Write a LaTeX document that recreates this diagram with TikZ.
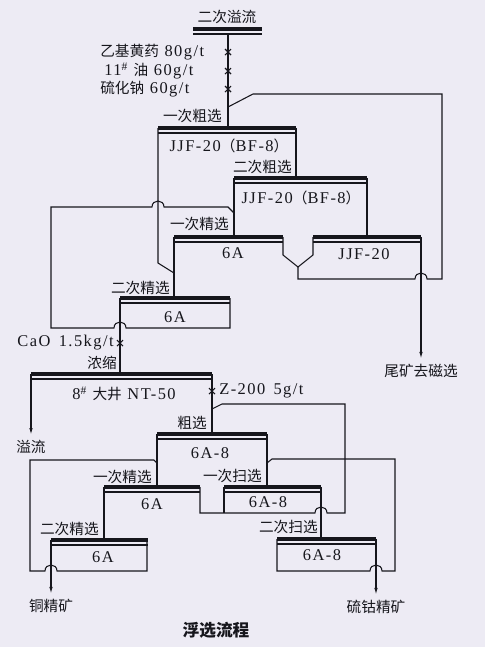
\documentclass[tikz,border=0pt]{standalone}
\usepackage{fontspec}
\setmainfont{Liberation Serif}[Scale=1.12, LetterSpace=9]
\newfontfamily\zhfont{Noto Sans CJK SC}
\newcommand{\zh}[1]{{\zhfont #1}}
\usepackage{tikz}
\usetikzlibrary{arrows.meta}
\definecolor{paper}{RGB}{237,235,244}
\definecolor{ink}{RGB}{22,22,28}

\tikzset{
  pipe/.style={draw=ink, line width=0.8pt},
  topbar/.style={draw=ink, line width=2.3pt},
  exitline/.style={pipe, -{Latex[length=5pt,width=2.6pt]}, shorten >=4pt},
  lbl/.style={inner sep=0pt, text=ink, font=\fontsize{11}{12}\selectfont},
}

\begin{document}
\begin{tikzpicture}[x=0.75pt, y=-0.75pt]
  \fill[paper] (0,0) rectangle (485,647);
  \useasboundingbox (0,0) rectangle (485,647);

  % --- cell tops: thick bar, thin line under it
  \foreach \xa/\xb/\ty in {193/262/29, 158/296/128, 234/367/178, 174/283/237, 313/421/237, 120/230/298,
                           31/212/374, 157/267/434, 104/200/487, 224/321/487, 51/148/540, 277/376/539} {
    \draw[topbar] (\xa,\ty) -- (\xb,\ty);
    \draw[pipe] (\xa,{\ty+5}) -- (\xb,{\ty+5});
  }

  % reagent additions
  \foreach \cx/\cy in {228/52, 228/71, 228/89, 120/343, 212/391}
    \draw[pipe] ({\cx-3},{\cy-3}) -- ({\cx+3},{\cy+3}) ({\cx-3},{\cy+3}) -- ({\cx+3},{\cy-3});

  % --- labels
  \node[lbl] (overflow2) at (227,17) {\zh{二次溢流}};
  \node[lbl, anchor=west] (xanthate) at (100,52) {\zh{乙基黄药} 80g/t};
  \node[lbl, anchor=west] (oil) at (104,71) {11\textsuperscript{\#} \zh{油} 60g/t};
  \node[lbl, anchor=west] (sulfide) at (100,89) {\zh{硫化钠} 60g/t};
  \node[lbl, anchor=east] (rough1) at (222,116) {\zh{一次粗选}};
  \node[lbl] (mach1) at (229,146) {JJF-20\zh{（}BF-8\zh{）}};
  \node[lbl, anchor=east] (rough2) at (292,167) {\zh{二次粗选}};
  \node[lbl] (mach2) at (301,198) {JJF-20\zh{（}BF-8\zh{）}};
  \node[lbl, anchor=east] (clean1) at (229,224) {\zh{一次精选}};
  \node[lbl] (mach3) at (233,253) {6A};
  \node[lbl] (mach4) at (364,254) {JJF-20};
  \node[lbl, anchor=east] (clean2) at (170,288) {\zh{二次精选}};
  \node[lbl] (mach5) at (175,317) {6A};
  \node[lbl, anchor=east] (lime) at (114,343) {CaO\enspace1.5kg/t};
  \node[lbl, anchor=east] (thicken) at (117,363) {\zh{浓缩}};
  \node[lbl] (thickener) at (124,394) {8\textsuperscript{\#} \zh{大井} NT-50};
  \node[lbl, anchor=west] (frother) at (219,391) {Z-200\enspace5g/t};
  \node[lbl] (tail) at (421,371) {\zh{尾矿去磁选}};
  \node[lbl] (overflow) at (31,447) {\zh{溢流}};
  \node[lbl, anchor=east] (rougher) at (207,423) {\zh{粗选}};
  \node[lbl] (mach6) at (210,453) {6A-8};
  \node[lbl, anchor=east] (cleanA) at (152,477) {\zh{一次精选}};
  \node[lbl, anchor=east] (scavA) at (262,476) {\zh{一次扫选}};
  \node[lbl] (mach7) at (152,504) {6A};
  \node[lbl] (mach8) at (268,502) {6A-8};
  \node[lbl, anchor=east] (cleanB) at (99,529) {\zh{二次精选}};
  \node[lbl, anchor=east] (scavB) at (318,527) {\zh{二次扫选}};
  \node[lbl] (mach9) at (103,557) {6A};
  \node[lbl] (mach10) at (322,555) {6A-8};
  \node[lbl] (copper) at (51,606) {\zh{铜精矿}};
  \node[lbl] (cobalt) at (376,607) {\zh{硫钴精矿}};
  \node[lbl, font=\fontsize{12.5}{14}\selectfont\bfseries] (title) at (216,630) {\zh{浮选流程}};

  % --- upper circuit
  \draw[pipe] (228,33) -- (228,128);
  \draw[pipe] (228,107) -- (253,94) -- (442,94) -- (442,279) -- (427,279) .. controls (427,271) and (415,271) .. (415,279) -- (298,279) -- (298,267);
  \draw[pipe] (296,128) -- (296,178);
  \draw[pipe] (158,128) -- (158,263) -- (174,273);
  \draw[pipe] (234,178) -- (234,237);
  \draw[pipe] (367,178) -- (367,237);
  \draw[pipe] (234,213) -- (228,207) -- (164,207) .. controls (164,199) and (152,199) .. (152,207) -- (51,207) -- (51,328)
              -- (114,328) .. controls (114,320) and (126,320) .. (126,328) -- (230,328) -- (230,298);
  \draw[pipe] (174,237) -- (174,298);
  \draw[pipe] (283,237) -- (283,255) -- (298,267) -- (313,255) -- (313,237);
  \draw[exitline] (421,237) -- (tail.north);
  \draw[pipe] (120,298) -- (120,374);

  % --- lower circuit
  \draw[exitline] (31,374) -- (overflow.north);
  \draw[pipe] (212,374) -- (212,434);
  \draw[pipe] (212,409) -- (222,404) -- (345,404) -- (345,513) -- (327,513) .. controls (327,505) and (315,505) .. (315,513) -- (200,513) -- (200,487);
  \draw[pipe] (224,487) -- (224,513);
  \draw[pipe] (157,434) -- (157,487);
  \draw[pipe] (267,434) -- (267,487);
  \draw[pipe] (157,463) -- (154,460) -- (30,460) -- (30,571) -- (45,571) .. controls (45,563) and (57,563) .. (57,571) -- (147,571) -- (147,540);
  \draw[pipe] (267,463) -- (272,459) -- (395,459) -- (395,571) -- (382,571) .. controls (382,563) and (370,563) .. (370,571) -- (277,571) -- (277,539);
  \draw[pipe] (104,487) -- (104,540);
  \draw[pipe] (321,487) -- (321,539);
  \draw[exitline] (51,540) -- (copper.north);
  \draw[exitline] (376,539) -- (cobalt.north);
\end{tikzpicture}
\end{document}
